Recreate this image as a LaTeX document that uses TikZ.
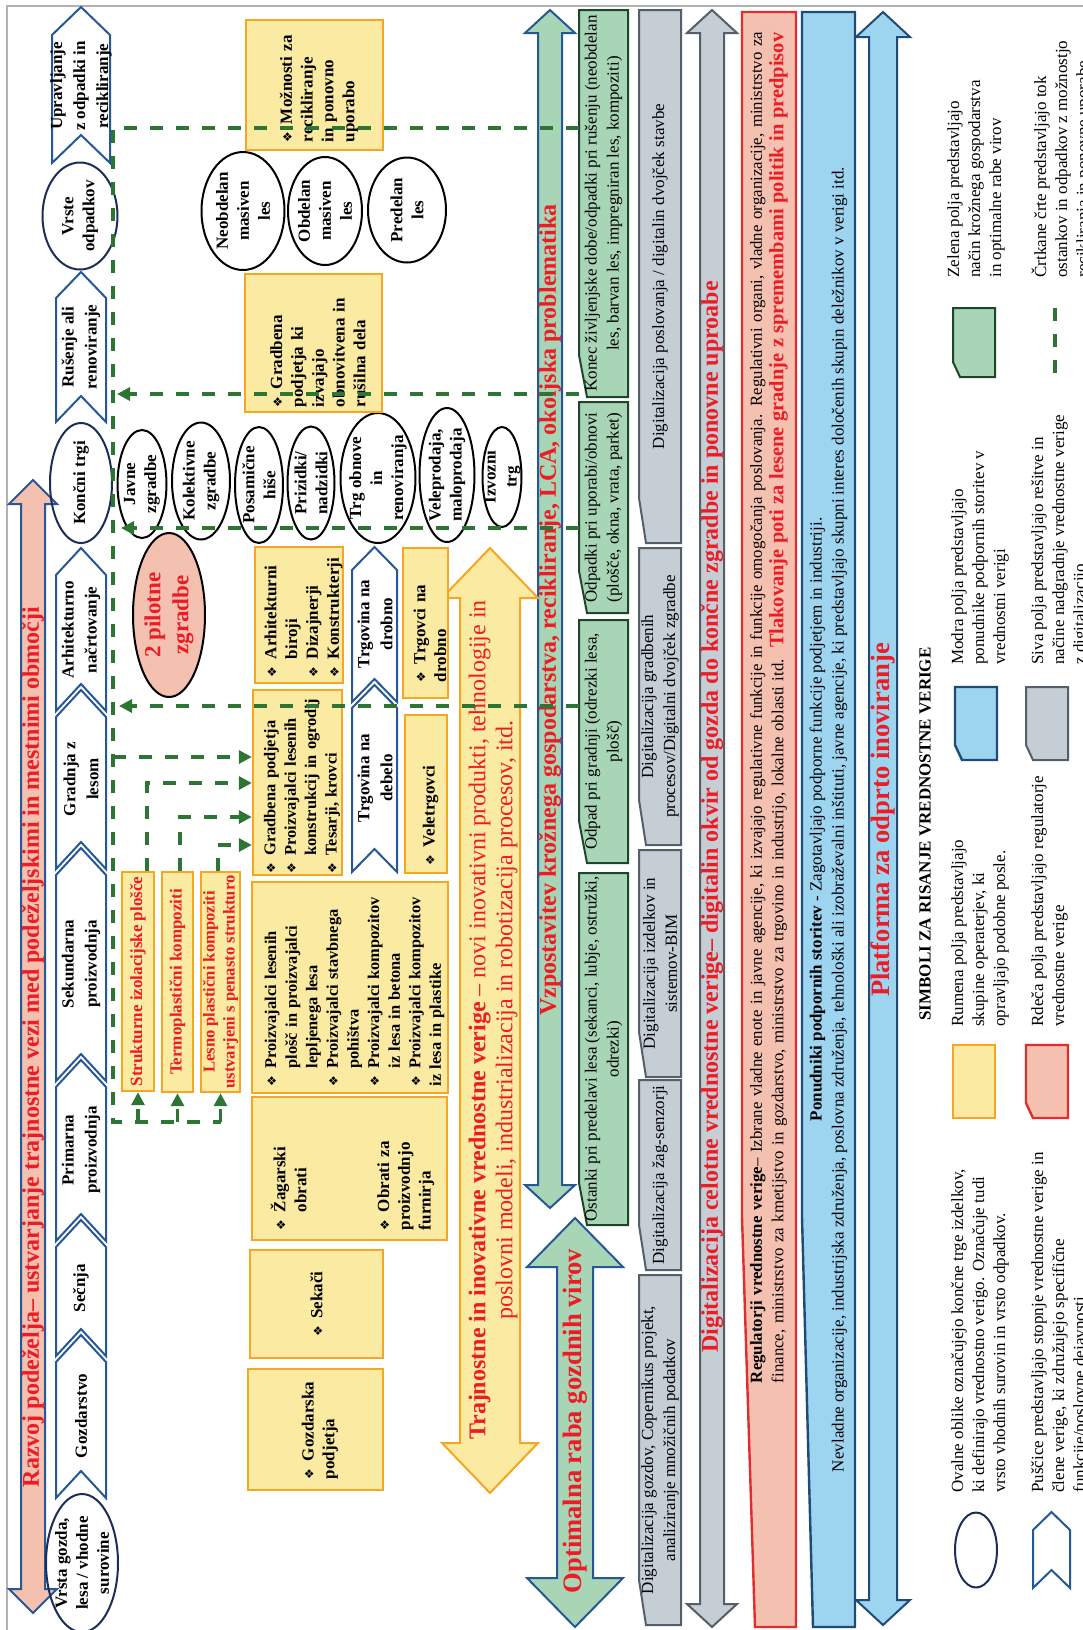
\documentclass[tikz,border=0pt]{standalone}
\usepackage{fontspec}
\setmainfont{Liberation Serif}
\newfontfamily\dingfont{DejaVu Sans}
\usetikzlibrary{shapes.geometric,arrows.meta}
\hyphenpenalty=10000

\definecolor{tred}{RGB}{237,28,36}
\definecolor{salmon}{RGB}{244,192,176}
\definecolor{chevblue}{RGB}{38,88,150}
\definecolor{navy}{RGB}{28,45,90}
\definecolor{yfill}{RGB}{251,234,162}
\definecolor{yorange}{RGB}{245,166,35}
\definecolor{gfill}{RGB}{168,213,181}
\definecolor{gline}{RGB}{30,70,40}
\definecolor{sfill}{RGB}{197,205,213}
\definecolor{sline}{RGB}{85,95,105}
\definecolor{bfill}{RGB}{157,212,240}
\definecolor{bline}{RGB}{30,75,120}
\definecolor{rline}{RGB}{225,45,45}
\definecolor{fgreen}{RGB}{46,116,52}

\newcommand{\bul}{{\dingfont\fontsize{6}{6}\selectfont\char"2756}}
\newcommand{\itm}[1]{\par\hangindent=9pt\hangafter=1\noindent\makebox[9pt][l]{\bul}#1}

\tikzset{
  chev/.style={draw=chevblue, fill=white, line width=1pt},
  chevtext/.style={rotate=90, align=center, inner sep=0pt, font=\bfseries\fontsize{8.5}{11.5}\selectfont},
  oval/.style={ellipse, draw=black, line width=1pt, inner sep=0pt, rotate=90},
  ovaltext/.style={rotate=90, align=center, inner sep=0pt, font=\bfseries\fontsize{8.5}{10.5}\selectfont},
  ybox/.style={rectangle, rotate=90, draw=yorange, fill=yfill, line width=1.2pt, inner xsep=4pt, inner ysep=0pt, align=left,
    font=\bfseries\fontsize{8.5}{10.4}\selectfont},
  rbox/.style={ybox, align=center, inner xsep=0pt, text=tred},
  ysq/.style={draw=yorange, fill=yfill, line width=1.2pt},
  greenbox/.style={draw=gline, fill=gfill, line width=1pt},
  greybox/.style={draw=sline, fill=sfill, line width=1pt},
  redbox/.style={draw=rline, fill=salmon, line width=1.2pt},
  bluebox/.style={draw=bline, fill=bfill, line width=1.2pt},
  boxtext/.style={rotate=90, align=center, inner sep=0pt, font=\fontsize{8.5}{11}\selectfont},
  arrR/.style={draw=chevblue, fill=salmon, line width=1pt},
  arrG/.style={draw=chevblue, fill=gfill, line width=1pt},
  arrY/.style={draw=yorange, fill=yfill, line width=1pt},
  arrS/.style={draw=sline, fill=sfill, line width=1pt},
  arrB/.style={draw=bline, fill=bfill, line width=1pt},
  bigtext/.style={rotate=90, align=center, inner sep=0pt, text=tred, font=\bfseries\fontsize{12}{13.5}\selectfont},
  flow/.style={draw=fgreen, line width=1.8pt, dash pattern=on 6.5pt off 6.5pt},
  flowarrow/.style={flow, -{Triangle[length=6.5pt,width=6.5pt]}},
  legtext/.style={rotate=90, anchor=north west, align=left, inner sep=0pt, font=\fontsize{8.5}{10.5}\selectfont},
}

\begin{document}
\begin{tikzpicture}[x=0.5pt,y=-0.5pt]
\useasboundingbox (0,0) rectangle (1083,1630);
\draw[gray!60, line width=0.8pt] (7,1630) -- (7,6) -- (1083,6);

% big double arrows
\foreach \xc/\ya/\yb/\sw/\hw/\hl/\sty in {33/480/1613/12/24/24/arrR, 550/10/1208/12/25/23/arrG,
    575/1218/1627/18/48/49/arrG, 490/548/1493/30/48/50/arrY, 712/10/1627/12/25/23/arrS, 883/12/1625/14/27/25/arrB}
  \draw[\sty] (\xc,\ya) -- (\xc+\hw,\ya+\hl) -- (\xc+\sw,\ya+\hl) -- (\xc+\sw,\yb-\hl) -- (\xc+\hw,\yb-\hl)
    -- (\xc,\yb) -- (\xc-\hw,\yb-\hl) -- (\xc-\sw,\yb-\hl) -- (\xc-\sw,\ya+\hl) -- (\xc-\hw,\ya+\hl) -- cycle;

\node[bigtext] (razvojt) at (33,1047) {Razvoj podeželja– ustvarjanje trajnostne vezi med podeželjskimi in mestnimi območji};
\node[bigtext] (vzpostt) at (550,610) {Vzpostavitev krožnega gospodarstva, recikliranje, LCA, okoljska problematika};
\node[bigtext, font=\bfseries\fontsize{13.3}{15}\selectfont] (optimt) at (575,1421) {Optimalna raba gozdnih virov};
\node[bigtext, font=\fontsize{12}{13.5}\selectfont] (trajt) at (493,1020) {\textbf{Trajnostne in inovativne vrednostne verige} – novi inovativni produkti, tehnologije in\\poslovni modeli, industrializacija in robotizacija procesov, itd.};
\node[bigtext] (digit) at (712,817) {Digitalizacija celotne vrednostne verige– digitalin okvir od gozda do končne zgradbe in ponovne uproabe};
\node[bigtext, font=\bfseries\fontsize{13.3}{15}\selectfont] (platft) at (883,820) {Platforma za odprto inoviranje};

% chevrons of the chain
\foreach \xa/\xb/\yb/\yt/\d in {56/106/1498/1362/27, 56/106/1356/1247/27, 56/106/1241/1087/27, 56/106/1081/875/27,
    56/106/869/717/27, 56/106/711/575/27, 56/106/422/298/26, 52/110/163/35/28, 352/397/872/708/23, 352/397/702/570/23}
  \draw[chev] (\xa,\yb) -- ({(\xa+\xb)/2},\yb-\d) -- (\xb,\yb) -- (\xb,\yt) -- ({(\xa+\xb)/2},\yt-\d) -- (\xa,\yt) -- cycle;

\node[chevtext] (gozd) at (81,1416) {Gozdarstvo};
\node[chevtext] (secnja) at (81,1288) {Sečnja};
\node[chevtext] (prim) at (81,1150) {Primarna\\proizvodnja};
\node[chevtext] (sek) at (81,964) {Sekundarna\\proizvodnja};
\node[chevtext] (gradnja) at (81,779) {Gradnja z\\lesom};
\node[chevtext] (arh) at (81,630) {Arhitekturno\\načrtovanje};
\node[chevtext] (rus) at (81,347) {Rušenje ali\\renoviranje};
\node[chevtext] (uprav) at (81,86) {Upravljanje\\z odpadki in\\recikliranje};
\node[chevtext] (trgdeb) at (375,778) {Trgovina na\\debelo};
\node[chevtext] (trgdrb) at (375,624) {Trgovina na\\drobno};

% ovals
\node[oval, draw=navy, minimum width=69pt, minimum height=36pt] (vrsta) at (82,1563) {};
\node[ovaltext] (vrstal) at (vrsta) {Vrsta gozda,\\lesa / vhodne\\surovine};
\node[oval, draw=navy, minimum width=60pt, minimum height=31pt] (koncni) at (81,483) {};
\node[ovaltext] (koncnil) at (koncni) {Končni trgi};
\node[oval, draw=navy, minimum width=53.5pt, minimum height=37.5pt] (vrste) at (80,216) {};
\node[ovaltext] (vrstel) at (vrste) {Vrste\\odpadkov};

\node[oval, minimum width=54pt, minimum height=24.5pt] (javne) at (142,484) {};
\node[ovaltext] (javnel) at (javne) {Javne\\zgradbe};
\node[oval, minimum width=58.5pt, minimum height=29pt] (kolekt) at (201,481) {};
\node[ovaltext] (kolektl) at (kolekt) {Kolektivne\\zgradbe};
\node[oval, minimum width=58pt, minimum height=24pt] (posam) at (259,485) {};
\node[ovaltext] (posaml) at (posam) {Posamične\\hiše};
\node[oval, minimum width=56.5pt, minimum height=23.5pt] (prizid) at (311,483) {};
\node[ovaltext] (prizidl) at (prizid) {Prizidki/\\nadzidki};
\node[oval, minimum width=65pt, minimum height=37.5pt] (trgobn) at (378,478) {};
\node[ovaltext] (trgobnl) at (trgobn) {Trg obnove\\in\\renoviranja};
\node[oval, minimum width=67pt, minimum height=27.5pt] (velepr) at (447,475) {};
\node[ovaltext] (veleprl) at (velepr) {Veleprodaja,\\maloprodaja};
\node[oval, minimum width=50pt, minimum height=19.5pt] (izvoz) at (502,477) {};
\node[ovaltext] (izvozl) at (izvoz) {Izvozni\\trg};

\node[oval, minimum width=59pt, minimum height=41.5pt] (neobd) at (243,211) {};
\node[ovaltext] (neobdl) at (neobd) {Neobdelan\\masiven\\les};
\node[oval, minimum width=54pt, minimum height=37pt] (obd) at (325,211) {};
\node[ovaltext] (obdl) at (obd) {Obdelan\\masiven\\les};
\node[oval, minimum width=52.5pt, minimum height=39pt] (predel) at (407,210) {};
\node[ovaltext] (predell) at (predel) {Predelan\\les};

\node[oval, fill=salmon, minimum width=82pt, minimum height=36pt] (pilot) at (169,615) {};
\node[ovaltext, text=tred, font=\bfseries\fontsize{11.5}{14}\selectfont] (pilotl) at (pilot) {2 pilotne\\zgradbe};

% yellow boxes
\node[ybox, minimum width=65pt, minimum height=68.5pt, text width=57pt] (moznosti) at (314.5,85) {\itm{Možnosti za\newline recikliranje\newline in ponovno\newline uporabo}};
\node[ybox, minimum width=69pt, minimum height=68.5pt, text width=64pt, inner xsep=2.5pt] (gradobn) at (313.5,343) {\itm{Gradbena\newline podjetja ki\newline izvajajo\newline obnovitvena in\newline rušilna dela}};
\node[ybox, minimum width=68pt, minimum height=44pt, text width=62pt, inner xsep=3pt] (arhit) at (299,615) {\itm{Arhitekturni\newline biroji}\itm{Dizajnerji}\itm{Konstrukterji}};
\node[ybox, minimum width=92.5pt, minimum height=44.5pt, text width=91pt, inner xsep=0.75pt, font=\bfseries\fontsize{8.2}{10.2}\selectfont] (gradb) at (297.5,782.5) {\itm{Gradbena podjetja}\itm{Proizvajalci lesenih\newline konstrukcij in ogrodij}\itm{Tesarji, krovci}};
\node[ybox, minimum width=105.5pt, minimum height=98pt, text width=99pt, inner xsep=3.25pt, font=\bfseries\fontsize{8.2}{10.3}\selectfont] (proiz) at (350,987.5) {\itm{Proizvajalci lesenih\newline plošč in proizvajalci\newline lepljenega lesa}\itm{Proizvajalci stavbnega\newline pohištva}\itm{Proizvajalci kompozitov\newline iz lesa in betona}\itm{Proizvajalci kompozitov\newline iz lesa in plastike}};
\node[ybox, minimum width=71.5pt, minimum height=97.5pt, text width=61.5pt, inner xsep=5pt] (zagar) at (349.5,1168.5) {\itm{Žagarski\newline obrati}\par\vspace{31pt}\itm{Obrati za\newline proizvodnjo\newline furnirja}};
\node[ybox, minimum width=54pt, minimum height=66.5pt, align=center] (sekaci) at (316.5,1304) {\makebox[9pt][l]{\bul}Sekači};
\node[ybox, minimum width=60.5pt, minimum height=67.5pt, text width=49.5pt, inner xsep=5.5pt] (gozdpod) at (315.5,1429.5) {\itm{Gozdarska\newline podjetja}};
\node[ybox, minimum width=79pt, minimum height=21pt, text width=71pt] (veletrg) at (426,794) {\itm{Veletrgovci}};
\node[ybox, minimum width=75pt, minimum height=22.5pt, text width=59pt, inner xsep=8pt] (trgdrob) at (425.5,623) {\itm{Trgovci na\newline drobno}};

\node[rbox, minimum width=109.5pt, minimum height=16pt] (sip) at (138,981.5) {Strukturne izolacijske plošče};
\node[rbox, minimum width=110pt, minimum height=15.5pt] (termo) at (177.5,982) {Termoplastični kompoziti};
\node[rbox, minimum width=110pt, minimum height=19.5pt, font=\bfseries\fontsize{8.3}{10}\selectfont] (lpk) at (220.5,982) {Lesno plastični kompoziti\\ustvarjeni s penasto strukturo};

% snipped boxes
\foreach \xa/\xb/\ya/\yb/\ca/\cb/\sty in {579/628/10/397/8/42/greenbox, 579/628/402/613/8/42/greenbox,
    579/628/620/863/8/42/greenbox, 579/628/873/1225/8/42/greenbox,
    639/681/10/543/7/45/greybox, 639/681/548/845/7/45/greybox, 639/681/850/1077/7/45/greybox,
    639/681/1080/1270/7/45/greybox, 639/681/1275/1625/7/45/greybox,
    742/796/12/1627/13/410/redbox, 802/855/12/1627/11/410/bluebox,
    953/995/308/377/7/15/greenbox, 955/997/687/760/7/15/bluebox, 1026/1068/687/760/7/15/greybox, 1026/1068/1045/1118/7/15/redbox}
  \draw[\sty] (\xa,\ya) -- (\xb,\ya) -- (\xb,\yb) -- (\xa+\ca,\yb) -- (\xa,\yb-\cb) -- cycle;
\draw[ysq] (953,1045) rectangle (995,1118);

\node[boxtext, minimum width=193.5pt, minimum height=24.5pt] (konec) at (603.5,203.5) {Konec življenjske dobe/odpadki pri rušenju (neobdelan\\les, barvan les, impregniran les, kompoziti)};
\node[boxtext, minimum width=105.5pt, minimum height=24.5pt] (odpupo) at (603.5,507.5) {Odpadki pri uporabi/obnovi\\(plošče, okna, vrata, parket)};
\node[boxtext, minimum width=121.5pt, minimum height=24.5pt] (odpgrad) at (603.5,741.5) {Odpad pri gradnji (odrezki lesa,\\plošč)};
\node[boxtext, minimum width=176pt, minimum height=24.5pt] (ostanki) at (603.5,1049) {Ostanki pri predelavi lesa (sekanci, lubje, ostružki,\\odrezki)};

\node[boxtext, minimum width=266.5pt, minimum height=21pt] (dig1) at (660,276.5) {Digitalizacija poslovanja / digitalin dvojček stavbe};
\node[boxtext, minimum width=148.5pt, minimum height=21pt] (dig2) at (660,696.5) {Digitalizacija gradbenih\\procesov/Digitalni dvojček zgradbe};
\node[boxtext, minimum width=113.5pt, minimum height=21pt] (dig3) at (660,963.5) {Digitalizacija izdelkov in\\sistemov-BIM};
\node[boxtext, minimum width=95pt, minimum height=21pt] (dig4) at (660,1175) {Digitalizacija žag-senzorji};
\node[boxtext, minimum width=175pt, minimum height=21pt] (dig5) at (660,1450) {Digitalizacija gozdov, Copernikus projekt,\\analiziranje množičnih podatkov};

\node[boxtext, minimum width=807.5pt, minimum height=27pt, text width=776.5pt, inner xsep=15.5pt, align=right, font=\fontsize{8.4}{10.8}\selectfont] (reg) at (769,819.5)
  {\makebox[670pt][s]{\textbf{Regulatorji vrednostne verige}– Izbrane vladne enote in javne agencije, ki izvajajo regulativne funkcije in funkcije omogočanja poslovanja. Regulativni organi, vladne organizacije, ministrstvo za}\\
   \makebox[670pt][s]{finance, ministrstvo za kmetijstvo in gozdarstvo, ministrstvo za trgovino in industrijo, lokalne oblasti itd.\ \ {\color{tred}\bfseries\fontsize{10.2}{11}\selectfont Tlakovanje poti za lesene gradnje z spremembami politik in predpisov}}};
\node[boxtext, minimum width=807.5pt, minimum height=26.5pt] (pon) at (828.5,819.5) {\textbf{Ponudniki podpornih storitev} - Zagotavljajo podporne funkcije podjetjem in industriji.\\Nevladne organizacije, industrijska združenja, poslovna združenja, tehnološki ali izobraževalni inštituti, javne agencije, ki predstavljajo skupni interes določenih skupin deležnikov v verigi itd.};

% legend
\node[rotate=90, font=\bfseries\fontsize{8.5}{10}\selectfont] (legtitle) at (925,834) {SIMBOLI ZA RISANJE VREDNOSTNE VERIGE};
\node[oval, draw=navy, minimum width=37.5pt, minimum height=21pt] (legoval) at (976,1550) {};
\draw[chev] (1033,1588) -- (1051.5,1570) -- (1070,1588) -- (1070,1530) -- (1051.5,1512) -- (1033,1530) -- cycle;
\draw[flow] (1055,308) -- (1055,376);
\node[legtext] (legovalt) at (951,1493) {Ovalne oblike označujejo končne trge izdelkov,\\ki definirajo vrednostno verigo. Označuje tudi\\vrsto vhodnih surovin in vrsto odpadkov.};
\node[legtext] (legchevt) at (1031,1493) {Puščice predstavljajo stopnje vrednostne verige in\\člene verige, ki združujejo specifične\\funkcije/poslovne dejavnosti};
\node[legtext] (legyt) at (951,1027) {Rumena polja predstavljajo\\skupine operaterjev, ki\\opravljajo podobne posle.};
\node[legtext] (legrt) at (1031,1027) {Rdeča polja predstavljajo regulatorje\\vrednostne verige};
\node[legtext] (legbt) at (951,665) {Modra polja predstavljajo\\ponudnike podpornih storitev v\\vrednostni verigi};
\node[legtext] (legst) at (1031,665) {Siva polja predstavljajo rešitve in\\načine nadgradnje vrednostne verige\\z digitalizacijo};
\node[legtext] (leggt) at (947,278) {Zelena polja predstavljajo\\način krožnega gospodarstva\\in optimalne rabe virov};
\node[legtext] (legft) at (1031,278) {Črtkane črte predstavljajo tok\\ostankov in odpadkov z možnostjo\\recikliranja in ponovne uporabe};

% dashed flows of residues and waste
\coordinate (fc1) at (113,128);
\coordinate (fc2) at (113,1122);
\coordinate (fc3) at (117,394);
\coordinate (fc4) at (121,528);
\coordinate (fc5) at (119,706);
\coordinate (fc6) at (113,757);
\coordinate (fc7) at (147,783);
\coordinate (fc8) at (180,817);
\coordinate (fc9) at (218,845);
\draw[flow] (konec.north |- fc1) -- (fc1) -- (fc2) -- (lpk.west |- fc2);
\foreach \n in {sip,termo,lpk}
  \draw[flowarrow] (\n.west |- fc2) -- (\n.west);
\draw[flowarrow] (konec.north |- fc3) -- (fc3);
\draw[flowarrow] (odpupo.north |- fc4) -- (fc4);
\draw[flowarrow] (odpgrad.north |- fc5) -- (fc5);
\draw[flowarrow] (fc6) -- (gradb.north |- fc6);
\draw[flowarrow] (sip.east -| fc7) -- (fc7) -- (gradb.north |- fc7);
\draw[flowarrow] (termo.east -| fc8) -- (fc8) -- (gradb.north |- fc8);
\draw[flowarrow] (lpk.east -| fc9) -- (fc9) -- (gradb.north |- fc9);
\end{tikzpicture}
\end{document}
